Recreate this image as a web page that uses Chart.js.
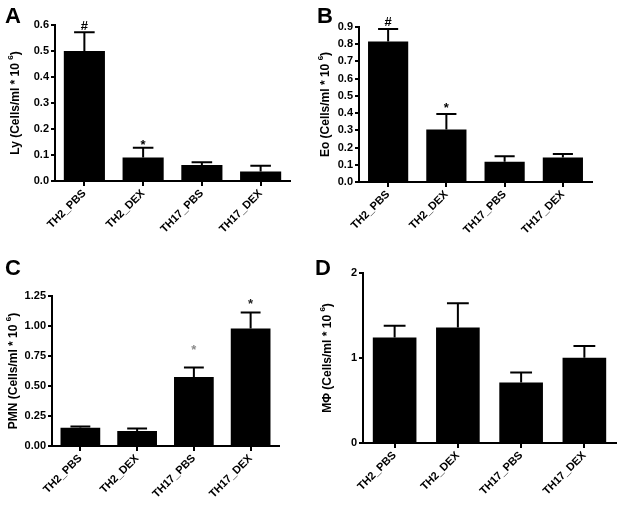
<!DOCTYPE html>
<html>
<head>
<meta charset="utf-8">
<script src="https://cdn.jsdelivr.net/npm/chart.js@4.4.1/dist/chart.umd.min.js"></script>
<style>
  html, body { margin: 0; padding: 0; background: #fff; }
  #wrap { position: relative; width: 624px; height: 509px; overflow: hidden; }
  canvas { position: absolute; }
</style>
</head>
<body>
<div id="wrap">
  <canvas id="chartA" width="312" height="250" style="left:0;top:0"></canvas>
  <canvas id="chartB" width="312" height="250" style="left:312px;top:0"></canvas>
  <canvas id="chartC" width="312" height="259" style="left:0;top:250px"></canvas>
  <canvas id="chartD" width="312" height="259" style="left:312px;top:250px"></canvas>
</div>
<script>
// groups on every x axis
const groups = ['TH2_PBS', 'TH2_DEX', 'TH17_PBS', 'TH17_DEX'];

// A - lymphocytes
const lyMean = [0.50, 0.09, 0.062, 0.037];
const lyErr = [0.072, 0.038, 0.010, 0.022];
const lySig = ['#', '*', '', ''];
const lyTicks = [0, 0.1, 0.2, 0.3, 0.4, 0.5, 0.6];

// B - eosinophils
const eoMean = [0.816, 0.305, 0.117, 0.142];
const eoErr = [0.073, 0.090, 0.033, 0.020];
const eoSig = ['#', '*', '', ''];
const eoTicks = [0, 0.1, 0.2, 0.3, 0.4, 0.5, 0.6, 0.7, 0.8, 0.9];

// C - neutrophils
const pmnMean = [0.152, 0.124, 0.574, 0.98];
const pmnErr = [0.011, 0.022, 0.080, 0.132];
const pmnSig = ['', '', '*', '*'];
const pmnTicks = [0, 0.25, 0.5, 0.75, 1.0, 1.25];

// D - macrophages
const mphiMean = [1.24, 1.358, 0.713, 1.004];
const mphiErr = [0.138, 0.287, 0.117, 0.138];
const mphiSig = ['', '', '', ''];
const mphiTicks = [0, 1, 2];

const FONT = '"Liberation Sans", Arial, sans-serif';

// error bars (upper half only) + significance marks
const errorBarPlugin = {
    id: 'errorBars',
    afterDatasetsDraw(chart, args, opts) {
        const ctx = chart.ctx;
        const yScale = chart.scales.y;
        const meta = chart.getDatasetMeta(0);
        ctx.save();
        ctx.strokeStyle = '#000';
        ctx.lineWidth = 2;
        meta.data.forEach((bar, i) => {
            const top = yScale.getPixelForValue(opts.mean[i] + opts.err[i]);
            const half = bar.width * 0.25;
            ctx.beginPath();
            ctx.moveTo(bar.x, bar.y);
            ctx.lineTo(bar.x, top);
            ctx.moveTo(bar.x - half, top);
            ctx.lineTo(bar.x + half, top);
            ctx.stroke();

            const mark = opts.sig[i];
            if (mark) {
                ctx.font = 'bold 13px ' + FONT;
                ctx.textAlign = 'center';
                ctx.textBaseline = 'alphabetic';
                ctx.fillStyle = opts.sigColor[i];
                const m = ctx.measureText(mark);
                const bottom = top - opts.sigGap[i];
                ctx.fillText(mark, bar.x, bottom - m.actualBoundingBoxDescent);
            }
        });
        ctx.restore();
    }
};

// panel letter and y title with superscript
const panelTextPlugin = {
    id: 'panelText',
    afterDraw(chart, args, opts) {
        const ctx = chart.ctx;
        const area = chart.chartArea;
        ctx.save();
        ctx.fillStyle = '#000';
        ctx.textBaseline = 'alphabetic';
        ctx.textAlign = 'left';
        ctx.font = 'bold 22px ' + FONT;
        ctx.fillText(opts.letter, opts.letterX, opts.letterY);

        const mainFont = 'bold 12px ' + FONT;
        const supFont = 'bold 8px ' + FONT;
        const parts = [
            { t: opts.title + ' (Cells/ml * 10 ', f: mainFont, dy: 0 },
            { t: '6', f: supFont, dy: -5 },
            { t: ')', f: mainFont, dy: 0 }
        ];
        let total = 0;
        parts.forEach(p => { ctx.font = p.f; p.w = ctx.measureText(p.t).width; total += p.w; });
        ctx.translate(opts.titleX, (area.top + area.bottom) / 2);
        ctx.rotate(-Math.PI / 2);
        ctx.textBaseline = 'middle';
        let x = -total / 2;
        parts.forEach(p => {
            ctx.font = p.f;
            ctx.fillText(p.t, x, p.dy);
            x += p.w;
        });
        ctx.restore();
    }
};

function makePanel(id, cfg) {
    new Chart(document.getElementById(id), {
        type: 'bar',
        data: {
            labels: groups,
            datasets: [{
                data: cfg.mean,
                backgroundColor: '#000',
                borderWidth: 0,
                barPercentage: cfg.barPct,
                categoryPercentage: 1
            }]
        },
        options: {
            responsive: false,
            animation: false,
            devicePixelRatio: 1,
            layout: { padding: cfg.padding },
            plugins: {
                legend: { display: false },
                tooltip: { enabled: false },
                errorBars: { mean: cfg.mean, err: cfg.err, sig: cfg.sig, sigGap: cfg.sigGap, sigColor: cfg.sigColor },
                panelText: cfg.text
            },
            scales: {
                x: {
                    afterFit(scale) { scale.height = cfg.xHeight; },
                    grid: { drawOnChartArea: false, offset: false, color: '#000', lineWidth: 2, tickLength: 5 },
                    border: { color: '#000', width: 2 },
                    ticks: {
                        color: '#000', font: { family: FONT, size: 11, weight: 'bold' },
                        minRotation: 45, maxRotation: 45, padding: 1, autoSkip: false
                    }
                },
                y: {
                    min: 0,
                    max: cfg.ticks[cfg.ticks.length - 1],
                    afterFit(scale) { scale.width = cfg.yWidth; },
                    afterBuildTicks(scale) { scale.ticks = cfg.ticks.map(v => ({ value: v })); },
                    grid: { drawOnChartArea: false, color: '#000', lineWidth: 2, tickLength: 4 },
                    border: { color: '#000', width: 2 },
                    ticks: {
                        color: '#000', font: { family: FONT, size: 11, weight: 'bold' }, padding: 2,
                        callback: v => Number(v).toFixed(cfg.digits)
                    }
                }
            }
        },
        plugins: [errorBarPlugin, panelTextPlugin]
    });
}

makePanel('chartA', {
    mean: lyMean, err: lyErr, sig: lySig, ticks: lyTicks, digits: 1,
    sigGap: [2, 3, 0, 0], sigColor: ['#000', '#000', '#000', '#000'],
    barPct: 0.7, padding: { left: 0, right: 22, top: 25, bottom: 0 }, yWidth: 55, xHeight: 69,
    text: { letter: 'A', letterX: 5, letterY: 23, title: 'Ly', titleX: 16 }
});

makePanel('chartB', {
    mean: eoMean, err: eoErr, sig: eoSig, ticks: eoTicks, digits: 1,
    sigGap: [3, 6, 0, 0], sigColor: ['#000', '#000', '#000', '#000'],
    barPct: 0.69, padding: { left: 0, right: 32, top: 27, bottom: 0 }, yWidth: 47, xHeight: 68,
    text: { letter: 'B', letterX: 5, letterY: 23, title: 'Eo', titleX: 14 }
});

makePanel('chartC', {
    mean: pmnMean, err: pmnErr, sig: pmnSig, ticks: pmnTicks, digits: 2,
    sigGap: [0, 0, 18, 9], sigColor: ['#000', '#000', '#8a8a8a', '#222'],
    barPct: 0.7, padding: { left: 0, right: 33, top: 46, bottom: 0 }, yWidth: 52, xHeight: 63,
    text: { letter: 'C', letterX: 5, letterY: 25, title: 'PMN', titleX: 14 }
});

makePanel('chartD', {
    mean: mphiMean, err: mphiErr, sig: mphiSig, ticks: mphiTicks, digits: 0,
    sigGap: [0, 0, 0, 0], sigColor: ['#000', '#000', '#000', '#000'],
    barPct: 0.69, padding: { left: 0, right: 8, top: 23, bottom: 0 }, yWidth: 51, xHeight: 66,
    text: { letter: 'D', letterX: 3, letterY: 25, title: 'M\u03A6', titleX: 16 }
});
</script>
</body>
</html>
